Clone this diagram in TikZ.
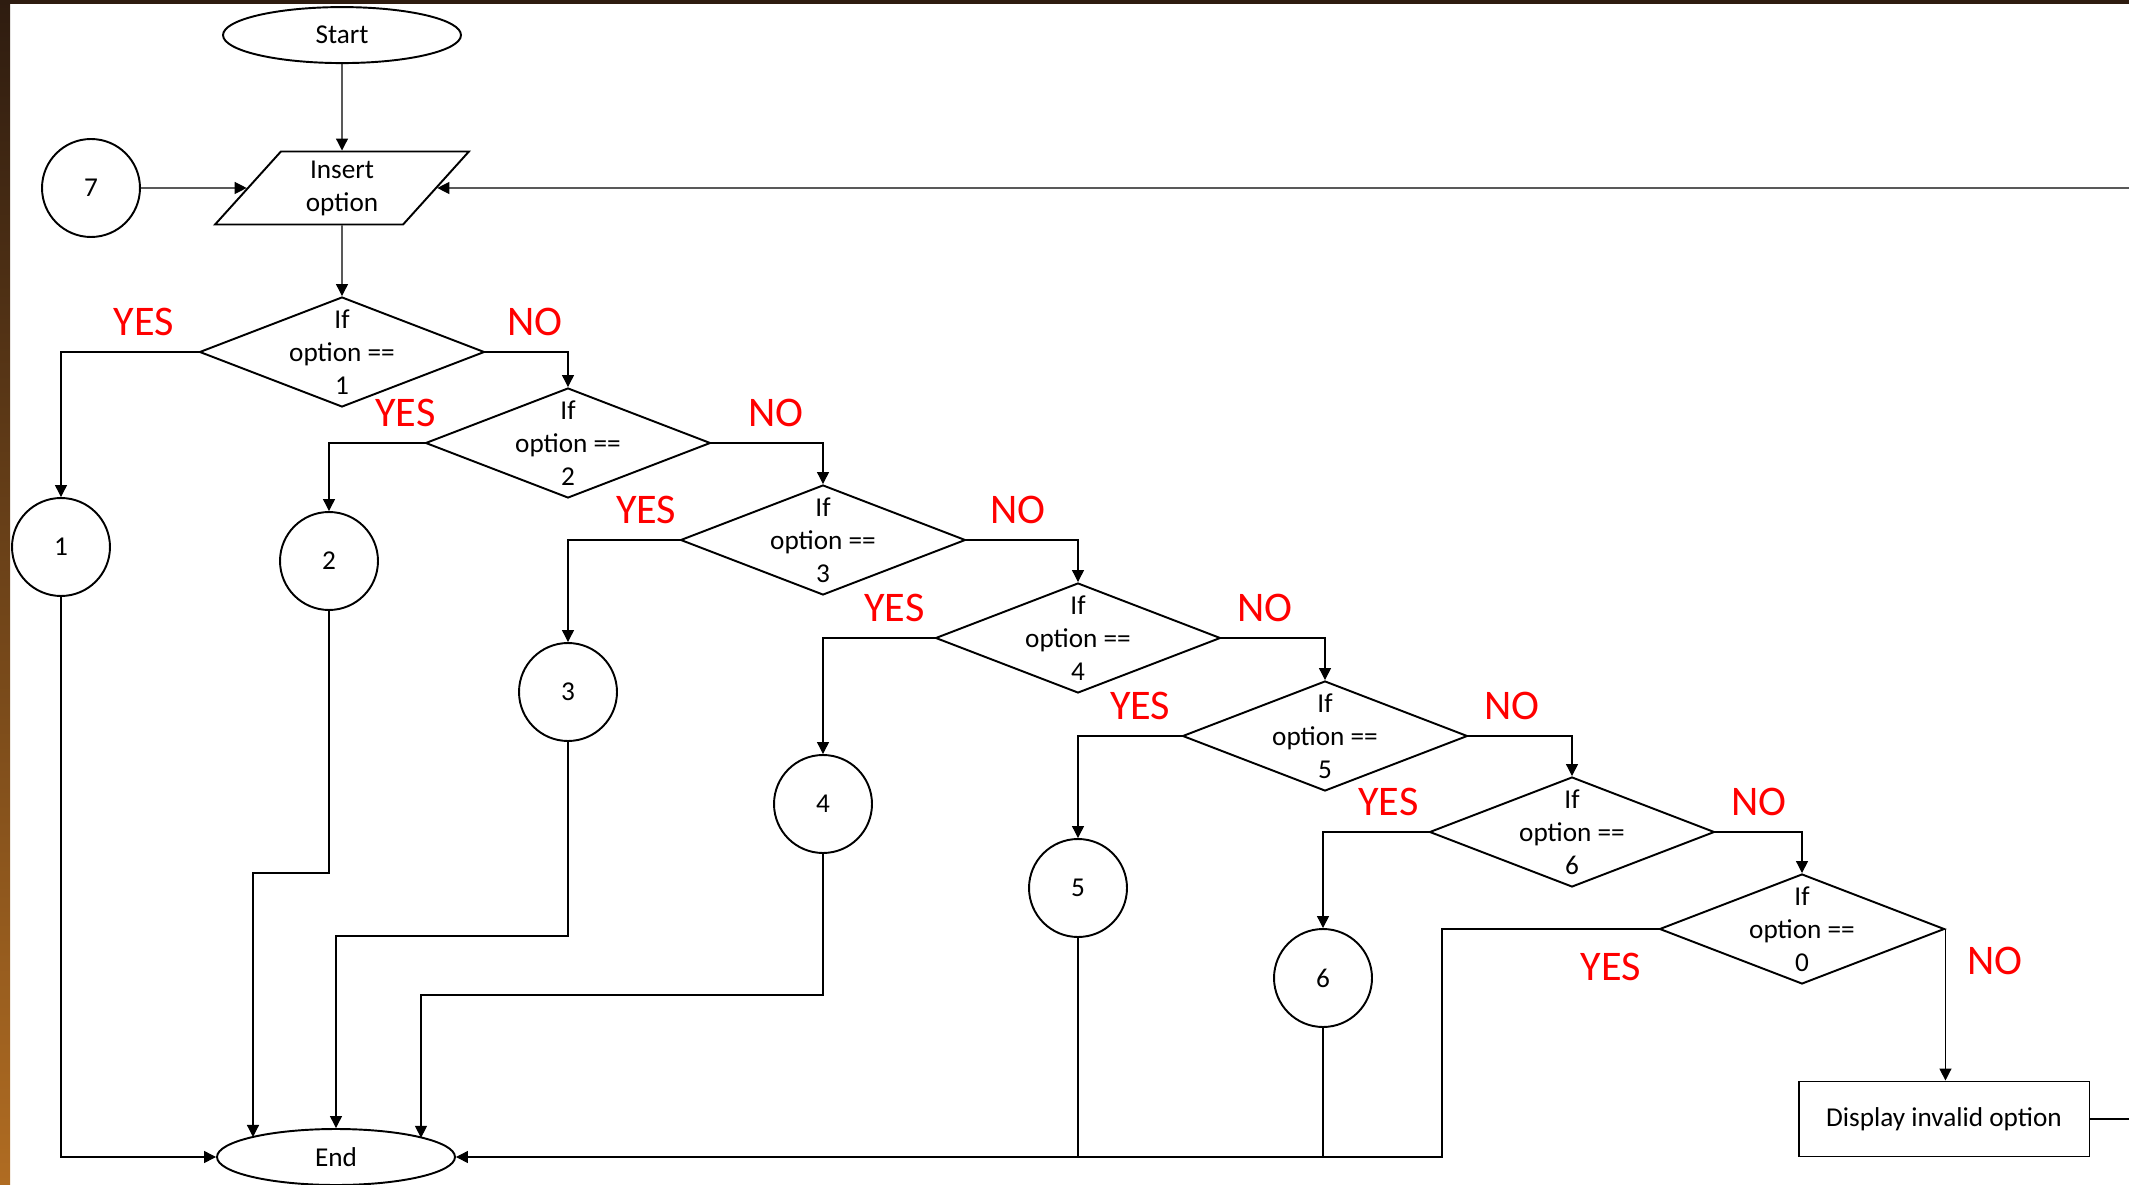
\documentclass[tikz,border=0pt]{standalone}
\usepackage{fontspec}
\setmainfont{Carlito}
\usetikzlibrary{positioning,arrows.meta,shapes.geometric}

\definecolor{woodtop}{HTML}{2E1C10}
\definecolor{woodmid}{HTML}{6A4322}
\definecolor{woodbot}{HTML}{B06C22}

\begin{document}
\begin{tikzpicture}[
  x=0.02cm, y=-0.02cm,
  font=\fontsize{15.5}{18.8}\selectfont,
  terminal/.style={
    ellipse, draw, line width=1.1pt,
    minimum width=4.76cm, minimum height=1.12cm
  },
  io/.style={
    trapezium, draw, line width=1.1pt, align=center,
    trapezium left angle=55, trapezium right angle=125,
    trapezium stretches=true, inner sep=1pt,
    minimum width=5.1cm, minimum height=1.46cm
  },
  decision/.style={
    diamond, draw, line width=1.1pt, inner sep=0pt,
    minimum width=5.7cm, minimum height=2.2cm,
    label={[align=center]center:If\\option ==\\#1}
  },
  connector/.style={
    circle, draw, line width=1.1pt, minimum size=1.96cm
  },
  process/.style={
    rectangle, draw, line width=1.1pt,
    minimum width=5.82cm, minimum height=1.5cm
  },
  answer/.style={text=red, inner sep=3.2mm, font=\fontsize{24}{28}\selectfont},
  arrow/.style={-{Triangle[length=2.4mm,width=2.4mm]}, line width=0.7pt},
  line/.style={line width=0.7pt}
]

\useasboundingbox (0,0) rectangle (2129,1185);
\shade[top color=woodtop, middle color=woodmid, bottom color=woodbot] (0,0) rectangle (10,1185);
\fill[woodtop] (0,0) rectangle (2129,4);

% =====================================================
% START / INPUT
% =====================================================

\node[io] (insert) at (342,188) {Insert\\option};
\node[terminal, above=1.73cm of insert] (start) {Start};
\node[connector] (conn7) at (91,188) {7};
\coordinate (loopin) at (2129,188);

\draw[arrow] (start) -- (insert);
\draw[arrow] (conn7) -- (insert);
\draw[arrow] (loopin) -- (insert);

% =====================================================
% OPTION CHECKS
% =====================================================

\node[decision=1] (opt1) at (342,352) {};
\node[decision=2] (opt2) at (568,443) {};
\node[decision=3] (opt3) at (823,540) {};
\node[decision=4] (opt4) at (1078,638) {};
\node[decision=5] (opt5) at (1325,736) {};
\node[decision=6] (opt6) at (1572,832) {};
\node[decision=0] (opt0) at (1802,929) {};

\draw[arrow] (insert) -- (opt1);

\node[connector] (conn1) at (61,547) {1};
\node[connector] (conn2) at (329,561) {2};
\node[connector] (conn3) at (568,692) {3};
\node[connector] (conn4) at (823,804) {4};
\node[connector] (conn5) at (1078,888) {5};
\node[connector] (conn6) at (1323,978) {6};

\draw[arrow] (opt1.west) -| node[answer, above, pos=.2]{YES} (conn1);
\draw[arrow] (opt1.east) -| node[answer, above, pos=.3]{NO} (opt2);
\draw[arrow] (opt2.west) -| node[answer, above, pos=.1]{YES} (conn2);
\draw[arrow] (opt2.east) -| node[answer, above, pos=.29]{NO} (opt3);
\draw[arrow] (opt3.west) -| node[answer, above, pos=.15]{YES} (conn3);
\draw[arrow] (opt3.east) -| node[answer, above, pos=.23]{NO} (opt4);
\draw[arrow] (opt4.west) -| node[answer, above, pos=.18]{YES} (conn4);
\draw[arrow] (opt4.east) -| node[answer, above, pos=.21]{NO} (opt5);
\draw[arrow] (opt5.west) -| node[answer, above, pos=.2]{YES} (conn5);
\draw[arrow] (opt5.east) -| node[answer, above, pos=.21]{NO} (opt6);
\draw[arrow] (opt6.west) -| node[answer, above, pos=.19]{YES} (conn6);
\draw[arrow] (opt6.east) -| node[answer, above, pos=.25]{NO} (opt0);

% =====================================================
% INVALID OPTION
% =====================================================

\node[process] (invalid) at (1944,1119) {Display invalid option};
\coordinate (loopout) at (2129,1119);

\draw[arrow] (opt0.east) -- node[answer, right, pos=.21, xshift=1mm]{NO} (invalid.north -| opt0.east);
\draw[line] (invalid) -- (loopout);

% =====================================================
% END
% =====================================================

\node[terminal] (finish) at (336,1157) {End};

\coordinate (bend2) at (253,873);
\coordinate (bend3) at (336,936);
\coordinate (bend4) at (421,995);
\coordinate (bend0) at (1442,1157);

\draw[arrow] (conn1) |- (finish);
\draw[arrow] (conn2) |- (bend2) -- (bend2 |- finish.167);
\draw[arrow] (conn3) |- (bend3) -- (finish);
\draw[arrow] (conn4) |- (bend4) -- (bend4 |- finish.12);
\draw[line] (conn5) -- (conn5 |- finish);
\draw[line] (conn6) -- (conn6 |- finish);
\draw[arrow] (opt0.west) -| node[answer, below, pos=.11, yshift=-1.5mm]{YES} (bend0) -- (finish);

\end{tikzpicture}
\end{document}
